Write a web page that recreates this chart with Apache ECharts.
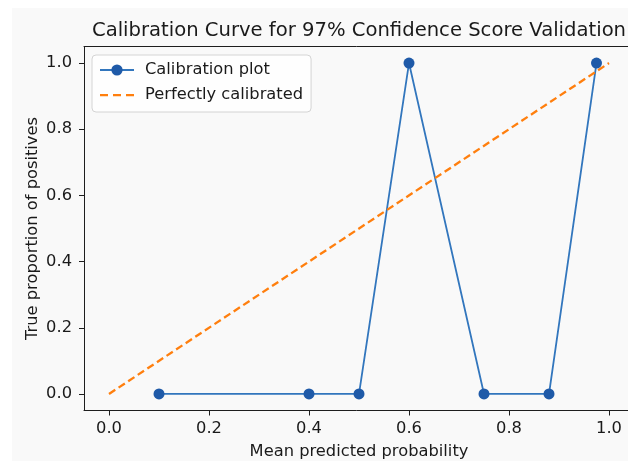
<!DOCTYPE html>
<html>
<head>
<meta charset="utf-8">
<script src="https://cdn.jsdelivr.net/npm/echarts@6/dist/echarts.min.js"></script>
<style>
html,body{margin:0;padding:0;background:#fff;}
#main{width:628px;height:461px;}
</style>
</head>
<body>
<div id="main"></div>
<script>
const calX = [0.1, 0.4, 0.5, 0.6, 0.75, 0.88, 0.975];
const calY = [0, 0, 0, 1, 0, 0, 1];
const perfX = [0, 1];
const perfY = [0, 1];
const ticks = [0, 0.2, 0.4, 0.6, 0.8, 1.0];
const titleText = 'Calibration Curve for 97% Confidence Score Validation';
const xName = 'Mean predicted probability';
const yName = 'True proportion of positives';

const FONT = 'DejaVu Sans';
const FS = 16.3;
const TXT = '#1a1a1a';
const SPINE = '#1e1e1e';
const chart = echarts.init(document.getElementById('main'));
const axisCommon = {
  type: 'value', min: -0.05, max: 1.05,
  splitLine: {show: false},
  axisLine: {show: true, onZero: false, lineStyle: {color: SPINE, width: 1}},
  axisTick: {show: true, length: 5, customValues: ticks, lineStyle: {color: SPINE, width: 1}},
  nameLocation: 'middle',
  nameMoveOverlap: false,
  nameTextStyle: {fontFamily: FONT, fontSize: FS, color: TXT}
};
const dashIcon = 'path://M0,0h0.01v0.01h-0.01Z M34,14h-0.01v-0.01h0.01Z M0,6h8v2.2h-8Z M13,6h8v2.2h-8Z M26,6h8v2.2h-8Z';
chart.setOption({
  animation: false,
  backgroundColor: 'transparent',
  graphic: [
    {type: 'rect', z: -10, silent: true, shape: {x: 12, y: 8, width: 616, height: 453}, style: {fill: '#f9f9f9'}},
    {type: 'text', x: 359, y: 31, z: 10, style: {text: titleText, font: '19.6px "DejaVu Sans"', fill: TXT, align: 'center', verticalAlign: 'middle'}}
  ],
  grid: {left: 84, top: 46.5, width: 550, height: 364, outerBoundsMode: 'none', containLabel: false, show: false},
  xAxis: [
    Object.assign({}, axisCommon, {
      name: xName, nameGap: 33, position: 'bottom',
      axisLabel: {customValues: ticks, formatter: v => v.toFixed(1), margin: 10, fontFamily: FONT, fontSize: FS, color: TXT}
    }),
    {
      type: 'value', min: -0.05, max: 1.05, position: 'top',
      splitLine: {show: false}, axisTick: {show: false}, axisLabel: {show: false},
      axisLine: {show: true, onZero: false, lineStyle: {color: SPINE, width: 1}}
    }
  ],
  yAxis: Object.assign({}, axisCommon, {
    name: yName, nameGap: 43,
    axisLabel: {customValues: ticks, formatter: v => v.toFixed(1), margin: 12, fontFamily: FONT, fontSize: FS, color: TXT}
  }),
  legend: {
    orient: 'vertical', left: 92, top: 55,
    padding: [7, 8, 9, 7],
    itemWidth: 34, itemHeight: 14, itemGap: 9,
    backgroundColor: 'rgba(255,255,255,0.8)', borderColor: '#d4d4d4', borderWidth: 1, borderRadius: 4,
    textStyle: {fontFamily: FONT, fontSize: FS, color: TXT, padding: [0, 0, 0, 6]},
    data: [
      {name: 'Calibration plot'},
      {name: 'Perfectly calibrated', icon: dashIcon, itemStyle: {color: '#ff7f0e', borderWidth: 0}}
    ]
  },
  series: [
    {
      name: 'Calibration plot', type: 'line',
      data: calX.map((x, i) => [x, calY[i]]),
      symbol: 'circle', symbolSize: 11, showSymbol: true,
      lineStyle: {color: '#3276bd', width: 1.8},
      itemStyle: {color: '#1f5aa8'},
      z: 3
    },
    {
      name: 'Perfectly calibrated', type: 'line',
      data: perfX.map((x, i) => [x, perfY[i]]),
      symbol: 'none', showSymbol: false,
      lineStyle: {color: '#ff7f0e', width: 2.3, type: [7.5, 4]},
      itemStyle: {color: '#ff7f0e'},
      z: 4
    }
  ]
});
</script>
</body>
</html>
